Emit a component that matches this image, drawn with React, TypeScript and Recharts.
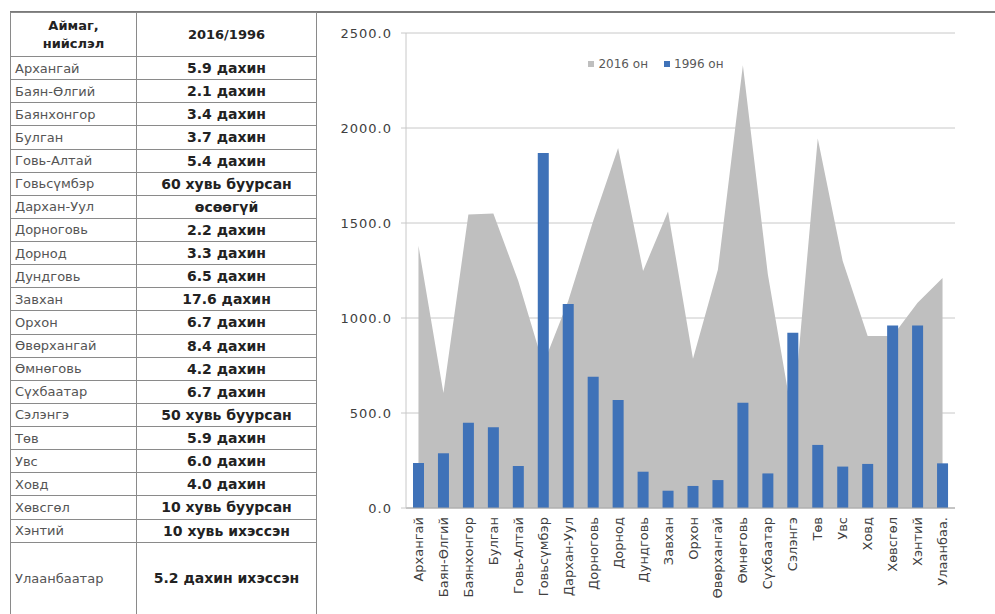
import React from 'react'
import { Area, Bar, CartesianGrid, ComposedChart, Legend, XAxis, YAxis } from 'recharts'

// aimag names, same order in table and chart
const regions = [
  'Архангай', 'Баян-Өлгий', 'Баянхонгор', 'Булган', 'Говь-Алтай', 'Говьсүмбэр',
  'Дархан-Уул', 'Дорноговь', 'Дорнод', 'Дундговь', 'Завхан', 'Орхон',
  'Өвөрхангай', 'Өмнөговь', 'Сүхбаатар', 'Сэлэнгэ', 'Төв', 'Увс',
  'Ховд', 'Хөвсгөл', 'Хэнтий', 'Улаанбаатар',
]

const values2016 = [
  1380, 605, 1545, 1550, 1195, 755,
  1090, 1510, 1895, 1248, 1560, 785,
  1255, 2330, 1230, 465, 1945, 1300,
  905, 905, 1080, 1210,
]

const values1996 = [
  237, 288, 449, 425, 221, 1868,
  1074, 691, 568, 191, 91, 116,
  147, 554, 182, 923, 332, 218,
  232, 960, 960, 235,
]

const ratios = [
  '5.9 дахин', '2.1 дахин', '3.4 дахин', '3.7 дахин', '5.4 дахин', '60 хувь буурсан',
  'өсөөгүй', '2.2 дахин', '3.3 дахин', '6.5 дахин', '17.6 дахин', '6.7 дахин',
  '8.4 дахин', '4.2 дахин', '6.7 дахин', '50 хувь буурсан', '5.9 дахин', '6.0 дахин',
  '4.0 дахин', '10 хувь буурсан', '10 хувь ихэссэн', '5.2 дахин ихэссэн',
]

const yTicks = [0, 500, 1000, 1500, 2000, 2500]

const data = regions.map((name, i) => ({
  name,
  y2016: values2016[i],
  y1996: values1996[i],
}))

const font = '"DejaVu Sans", sans-serif'
const border = '1px solid #8a8a8a'

const cell: React.CSSProperties = {
  border,
  padding: '0 4px',
  fontFamily: font,
  fontSize: 13,
  whiteSpace: 'nowrap',
  overflow: 'hidden',
}

const RegionTick = (props: any) => {
  const { x, y, payload } = props
  const label = payload.value.length > 10 ? payload.value.slice(0, 8) + '.' : payload.value
  return (
    <g transform={`translate(${x},${y})`}>
      <text
        transform='rotate(-90)'
        x={-1}
        y={0}
        dy='0.35em'
        textAnchor='end'
        fill='#404040'
        fontSize={13}
        fontFamily={font}
      >
        {label}
      </text>
    </g>
  )
}

const LegendContent = (props: any) => {
  // 2016 first, as in the source
  const items = (props.payload || []).slice().sort((a: any, b: any) => String(b.value).localeCompare(String(a.value)))
  return (
    <div style={{ display: 'flex', justifyContent: 'center', gap: 16, fontFamily: font, fontSize: 12, color: '#595959' }}>
      {items.map((item: any) => (
        <span key={item.value} style={{ display: 'flex', alignItems: 'center' }}>
          <span style={{ display: 'inline-block', width: 6, height: 6, background: item.color, marginRight: 4 }} />
          {item.value}
        </span>
      ))}
    </div>
  )
}

const App = () => {
  return (
    <div style={{ position: 'absolute', left: 0, top: 0, width: 995, height: 614, background: '#fff', overflow: 'hidden' }}>
      <div style={{ position: 'absolute', left: 10, top: 11, width: 985, height: 2, background: '#7a7a7a' }} />
      <table
        style={{
          position: 'absolute',
          left: 10,
          top: 12,
          width: 306,
          borderCollapse: 'collapse',
          tableLayout: 'fixed',
        }}
      >
        <colgroup>
          <col style={{ width: 126 }} />
          <col style={{ width: 180 }} />
        </colgroup>
        <tbody>
          <tr style={{ height: 44 }}>
            <td style={{ ...cell, textAlign: 'center', fontWeight: 'bold', color: '#222', lineHeight: '18px' }}>
              Аймаг,<br />нийслэл
            </td>
            <td style={{ ...cell, textAlign: 'center', fontWeight: 'bold', color: '#222' }}>2016/1996</td>
          </tr>
          {regions.map((name, i) => (
            <tr key={name} style={{ height: i === regions.length - 1 ? 72 : 23.14 }}>
              <td style={{ ...cell, color: '#555' }}>{name}</td>
              <td style={{ ...cell, textAlign: 'center', fontWeight: 'bold', color: '#222', fontSize: 14 }}>{ratios[i]}</td>
            </tr>
          ))}
        </tbody>
      </table>
      <div style={{ position: 'absolute', left: 315, top: 0 }}>
        <ComposedChart
          width={680}
          height={614}
          data={data}
          margin={{ top: 33, right: 40, bottom: 0, left: 0 }}
        >
          <CartesianGrid vertical={false} stroke='#c8c8c8' />
          <XAxis
            dataKey='name'
            interval={0}
            height={92}
            axisLine={{ stroke: '#a6a6a6' }}
            tickLine={false}
            tick={<RegionTick />}
          />
          <YAxis
            width={91}
            domain={[0, 2500]}
            ticks={yTicks}
            tickFormatter={(v) => v.toFixed(1)}
            axisLine={{ stroke: '#c8c8c8' }}
            tickLine={{ stroke: '#c8c8c8' }}
            tickSize={5}
            tickMargin={9}
            tick={{ fill: '#404040', fontSize: 13, fontFamily: font, letterSpacing: 1 }}
          />
          <Legend
            content={<LegendContent />}
            wrapperStyle={{ position: 'absolute', top: 57, left: 241, width: 200 }}
          />
          <Area
            type='linear'
            dataKey='y2016'
            name='2016 он'
            fill='#bfbfbf'
            fillOpacity={1}
            stroke='none'
            isAnimationActive={false}
          />
          <Bar
            dataKey='y1996'
            name='1996 он'
            fill='#3f72b8'
            barSize={11}
            isAnimationActive={false}
          />
        </ComposedChart>
      </div>
    </div>
  )
}

export default App
